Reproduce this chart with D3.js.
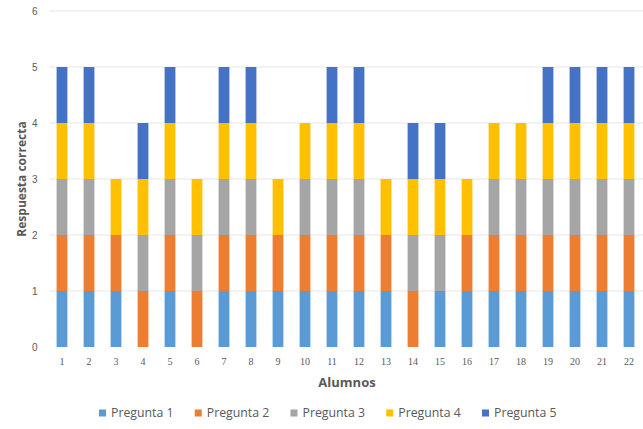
<!DOCTYPE html>
<html>
<head>
<meta charset="utf-8">
<script src="https://cdn.jsdelivr.net/npm/d3@7"></script>
<style>
  html, body { margin: 0; padding: 0; background: #fff; }
  svg { display: block; font-family: "Open Sans", "Noto Sans", sans-serif; }
</style>
</head>
<body>
<svg id="chart" width="643" height="429"></svg>
<script>
// Students 1..22 and whether each question was answered correctly (1) or not (0)
const alumnos = ["1","2","3","4","5","6","7","8","9","10","11","12","13","14","15","16","17","18","19","20","21","22"];
const pregunta1 = [1,1,1,0,1,0,1,1,1,1,1,1,1,0,1,1,1,1,1,1,1,1];
const pregunta2 = [1,1,1,1,1,1,1,1,1,1,1,1,1,1,0,1,1,1,1,1,1,1];
const pregunta3 = [1,1,0,1,1,1,1,1,0,1,1,1,0,1,1,0,1,1,1,1,1,1];
const pregunta4 = [1,1,1,1,1,1,1,1,1,1,1,1,1,1,1,1,1,1,1,1,1,1];
const pregunta5 = [1,1,0,1,1,0,1,1,0,0,1,1,0,1,1,0,0,0,1,1,1,1];
const seriesNames = ["Pregunta 1","Pregunta 2","Pregunta 3","Pregunta 4","Pregunta 5"];
const seriesColors = ["#5B9BD5","#ED7D31","#A5A5A5","#FFC000","#4472C4"];
const yTicks = [0,1,2,3,4,5,6];

const rows = alumnos.map((a, i) => ({
  alumno: a,
  "Pregunta 1": pregunta1[i],
  "Pregunta 2": pregunta2[i],
  "Pregunta 3": pregunta3[i],
  "Pregunta 4": pregunta4[i],
  "Pregunta 5": pregunta5[i]
}));

const svg = d3.select("#chart");
const margin = { left: 48.5, right: 0.5, top: 11, bottom: 82 };
const W = 643, H = 429;

const x = d3.scaleBand().domain(alumnos)
  .range([margin.left, W - margin.right]).paddingInner(0.6).paddingOuter(0.3);
const y = d3.scaleLinear().domain([0, 6]).range([H - margin.bottom, margin.top]);

// Horizontal gridlines
svg.append("g").selectAll("line").data(yTicks.filter(d => d > 0)).join("line")
  .attr("x1", margin.left + 1).attr("x2", W)
  .attr("y1", d => y(d)).attr("y2", d => y(d))
  .attr("stroke", "#e6e6e6").attr("stroke-width", 1);

// Stacked bars
const stack = d3.stack().keys(seriesNames);
const layers = stack(rows);
svg.append("g").selectAll("g").data(layers).join("g")
  .attr("fill", (d, i) => seriesColors[i])
  .selectAll("rect").data(d => d.filter(s => s[1] - s[0] > 0)).join("rect")
  .attr("x", d => x(d.data.alumno))
  .attr("width", x.bandwidth())
  .attr("y", d => y(d[1]))
  .attr("height", d => y(d[0]) - y(d[1]));

// Y axis tick labels
const yAxis = svg.append("g").attr("transform", `translate(${margin.left - 11},0)`)
  .call(d3.axisLeft(y).tickValues(yTicks).tickFormat(d3.format("d")).tickSize(0).tickPadding(0));
yAxis.select(".domain").remove();
yAxis.selectAll("text").attr("fill", "#595959").attr("font-size", 10);

// X axis tick labels
const xAxis = svg.append("g").attr("transform", `translate(0,${H - margin.bottom + 11})`)
  .call(d3.axisBottom(x).tickSize(0).tickPadding(0));
xAxis.select(".domain").remove();
xAxis.selectAll("text").attr("fill", "#595959").attr("font-size", 10)
  .attr("font-family", "'Liberation Serif', serif");

// Axis titles
svg.append("text").attr("x", 347).attr("y", 387)
  .attr("text-anchor", "middle").attr("font-weight", "bold").attr("font-size", 13)
  .attr("fill", "#595959").text("Alumnos");
svg.append("text")
  .attr("transform", `translate(26,${y(3)}) rotate(-90)`)
  .attr("text-anchor", "middle").attr("font-weight", "bold").attr("font-size", 12)
  .attr("fill", "#595959").text("Respuesta correcta");

// Legend
const legend = svg.append("g").selectAll("g").data(seriesNames).join("g")
  .attr("transform", (d, i) => `translate(${99 + i * 95.75},413)`);
legend.append("rect").attr("x", 0).attr("y", -3.5).attr("width", 7).attr("height", 7)
  .attr("fill", (d, i) => seriesColors[i]);
legend.append("text").attr("x", 12).attr("dy", "0.35em").attr("font-size", 12.3)
  .attr("fill", "#595959").text(d => d);
</script>
</body>
</html>
